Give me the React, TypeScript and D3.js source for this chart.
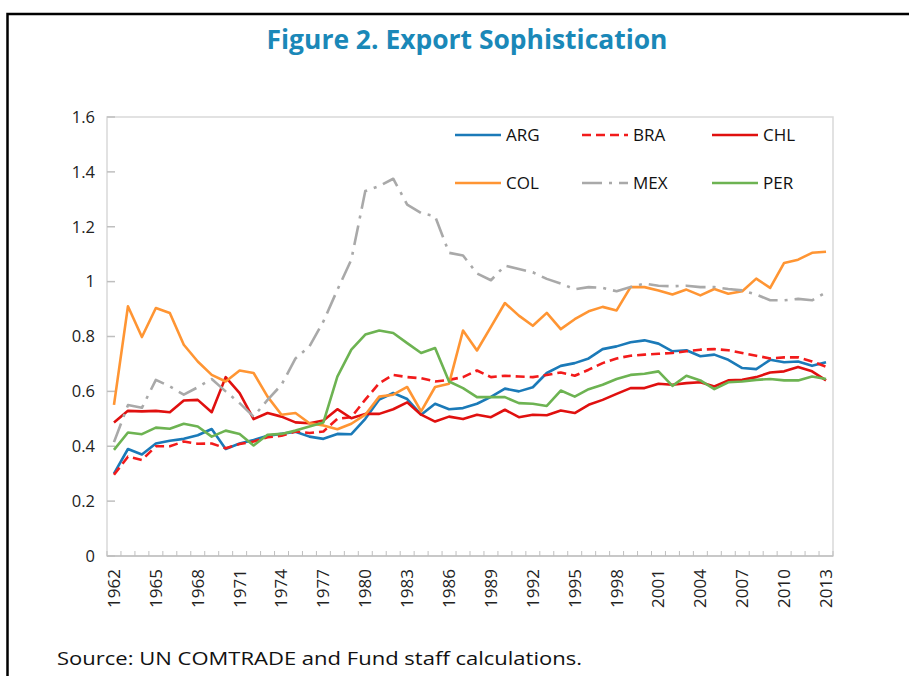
import React from "react";
import * as d3 from "d3";

const years: number[] = d3.range(1962, 2014);
const tickYears: number[] = d3.range(1962, 2014, 3);
const yTicks: number[] = [0, 0.2, 0.4, 0.6, 0.8, 1, 1.2, 1.4, 1.6];

const ARG = [0.30,0.39,0.37,0.41,0.42,0.427,0.44,0.463,0.39,0.41,0.423,0.438,0.445,0.453,0.435,0.427,0.445,0.444,0.50,0.57,0.594,0.572,0.515,0.555,0.535,0.539,0.555,0.58,0.61,0.60,0.615,0.667,0.693,0.703,0.72,0.754,0.764,0.779,0.786,0.774,0.746,0.75,0.728,0.734,0.715,0.685,0.681,0.715,0.706,0.709,0.693,0.706];
const BRA = [0.296,0.362,0.35,0.40,0.40,0.417,0.409,0.41,0.393,0.408,0.417,0.433,0.438,0.454,0.448,0.454,0.50,0.506,0.57,0.63,0.66,0.652,0.648,0.636,0.642,0.652,0.676,0.652,0.657,0.654,0.652,0.66,0.669,0.657,0.679,0.703,0.72,0.73,0.734,0.737,0.74,0.746,0.752,0.754,0.75,0.74,0.73,0.72,0.724,0.724,0.709,0.69];
const CHL = [0.487,0.529,0.527,0.529,0.524,0.567,0.569,0.524,0.652,0.594,0.499,0.521,0.508,0.487,0.484,0.494,0.535,0.502,0.518,0.518,0.535,0.56,0.515,0.49,0.508,0.499,0.515,0.506,0.533,0.506,0.515,0.513,0.53,0.521,0.551,0.569,0.591,0.612,0.612,0.628,0.624,0.63,0.633,0.618,0.64,0.642,0.652,0.669,0.673,0.689,0.673,0.64];
const COL = [0.551,0.91,0.798,0.904,0.886,0.77,0.709,0.66,0.636,0.676,0.667,0.581,0.515,0.521,0.484,0.476,0.462,0.482,0.515,0.581,0.588,0.616,0.527,0.616,0.628,0.822,0.749,0.835,0.922,0.876,0.839,0.886,0.827,0.863,0.892,0.908,0.895,0.98,0.98,0.968,0.953,0.971,0.95,0.973,0.956,0.965,1.011,0.977,1.068,1.08,1.105,1.109];
const MEX = [0.415,0.55,0.54,0.642,0.618,0.588,0.615,0.645,0.60,0.557,0.508,0.569,0.624,0.72,0.764,0.855,0.97,1.08,1.33,1.348,1.375,1.281,1.25,1.238,1.105,1.095,1.03,1.005,1.058,1.046,1.034,1.01,0.993,0.972,0.98,0.977,0.965,0.98,0.993,0.985,0.983,0.985,0.98,0.98,0.973,0.968,0.953,0.932,0.932,0.937,0.932,0.961];
const PER = [0.387,0.45,0.444,0.468,0.464,0.482,0.472,0.435,0.457,0.445,0.403,0.442,0.445,0.457,0.472,0.487,0.654,0.752,0.807,0.822,0.813,0.776,0.74,0.758,0.636,0.612,0.579,0.579,0.579,0.557,0.555,0.547,0.603,0.581,0.608,0.624,0.645,0.66,0.664,0.673,0.62,0.657,0.64,0.608,0.633,0.636,0.642,0.645,0.64,0.64,0.654,0.645];

const seriesNames = ["ARG", "BRA", "CHL", "COL", "MEX", "PER"];
const seriesValues = [ARG, BRA, CHL, COL, MEX, PER];
const seriesColors = ["#1B7AB8", "#F21B1B", "#E0100F", "#FF9533", "#A9A9A9", "#6DB352"];
const seriesDash = ["", "9,5", "", "", "20,7,3,7", ""];

export default function App() {
  const W = 909, H = 676;
  const left = 107, right = 833, top = 117, bottom = 556;
  const xBand = d3.scaleBand<number>().domain(years).range([left, right]).paddingInner(0).paddingOuter(0);
  const xc = (yr: number) => (xBand(yr) as number) + xBand.bandwidth() / 2;
  const y = d3.scaleLinear().domain([0, 1.6]).range([bottom, top]);
  const line = d3.line<number>().x((_, i) => xc(years[i])).y((v) => y(v));
  const font = "'Open Sans', 'DejaVu Sans', sans-serif";

  const legendPos = [
    { x: 455, y: 135 }, { x: 582, y: 135 }, { x: 712, y: 135 },
    { x: 455, y: 183 }, { x: 582, y: 183 }, { x: 712, y: 183 },
  ];

  return (
    <svg width={W} height={H} style={{ position: "absolute", left: 0, top: 0, background: "#fff" }}>
      <rect x={0} y={0} width={W} height={H} fill="#fff" />
      <rect x={7.5} y={14} width={1000} height={1000} fill="none" stroke="#000" strokeWidth={2.5} />
      <text x={467} y={49} textAnchor="middle" fill="#1A88B8" fontFamily={font} fontWeight={700} fontSize={26} textLength={401} lengthAdjust="spacingAndGlyphs">
        Figure 2. Export Sophistication
      </text>
      <rect x={left} y={top} width={right - left} height={bottom - top} fill="none" stroke="#D9D9D9" strokeWidth={1.5} />
      {yTicks.map((t) => (
        <g key={"y" + t}>
          <line x1={left} x2={left + 8} y1={y(t)} y2={y(t)} stroke="#BFBFBF" strokeWidth={1.5} />
          <text x={95} y={y(t)} dy="0.35em" textAnchor="end" fontFamily={font} fontSize={16.5} fill="#222">
            {String(t)}
          </text>
        </g>
      ))}
      {d3.range(0, years.length + 1).map((i) => {
        const xx = left + i * xBand.bandwidth();
        return <line key={"xt" + i} x1={xx} x2={xx} y1={bottom} y2={bottom - 5} stroke="#BFBFBF" strokeWidth={1} />;
      })}
      <line x1={left} x2={right} y1={bottom} y2={bottom} stroke="#BFBFBF" strokeWidth={1.5} />
      {tickYears.map((yr) => (
        <text key={"xl" + yr} transform={`translate(${xc(yr)},569) rotate(-90)`} textAnchor="end" dy="0.35em" fontFamily={font} fontSize={17} fill="#222">
          {yr}
        </text>
      ))}
      {seriesValues.map((vals, k) => (
        <path key={seriesNames[k]} d={line(vals) || ""} fill="none" stroke={seriesColors[k]} strokeWidth={2.6} strokeDasharray={seriesDash[k] || undefined} strokeLinejoin="round" />
      ))}
      {seriesNames.map((n, k) => (
        <g key={"lg" + n}>
          <line x1={legendPos[k].x} x2={legendPos[k].x + 46} y1={legendPos[k].y} y2={legendPos[k].y} stroke={seriesColors[k]} strokeWidth={2.6} strokeDasharray={seriesDash[k] || undefined} />
          <text x={legendPos[k].x + 51} y={legendPos[k].y} dy="0.36em" fontFamily={font} fontSize={17} fill="#111">
            {n}
          </text>
        </g>
      ))}
      <text x={57} y={665} fontFamily={font} fontSize={19} fill="#111" textLength={525} lengthAdjust="spacingAndGlyphs">
        Source: UN COMTRADE and Fund staff calculations.
      </text>
    </svg>
  );
}
